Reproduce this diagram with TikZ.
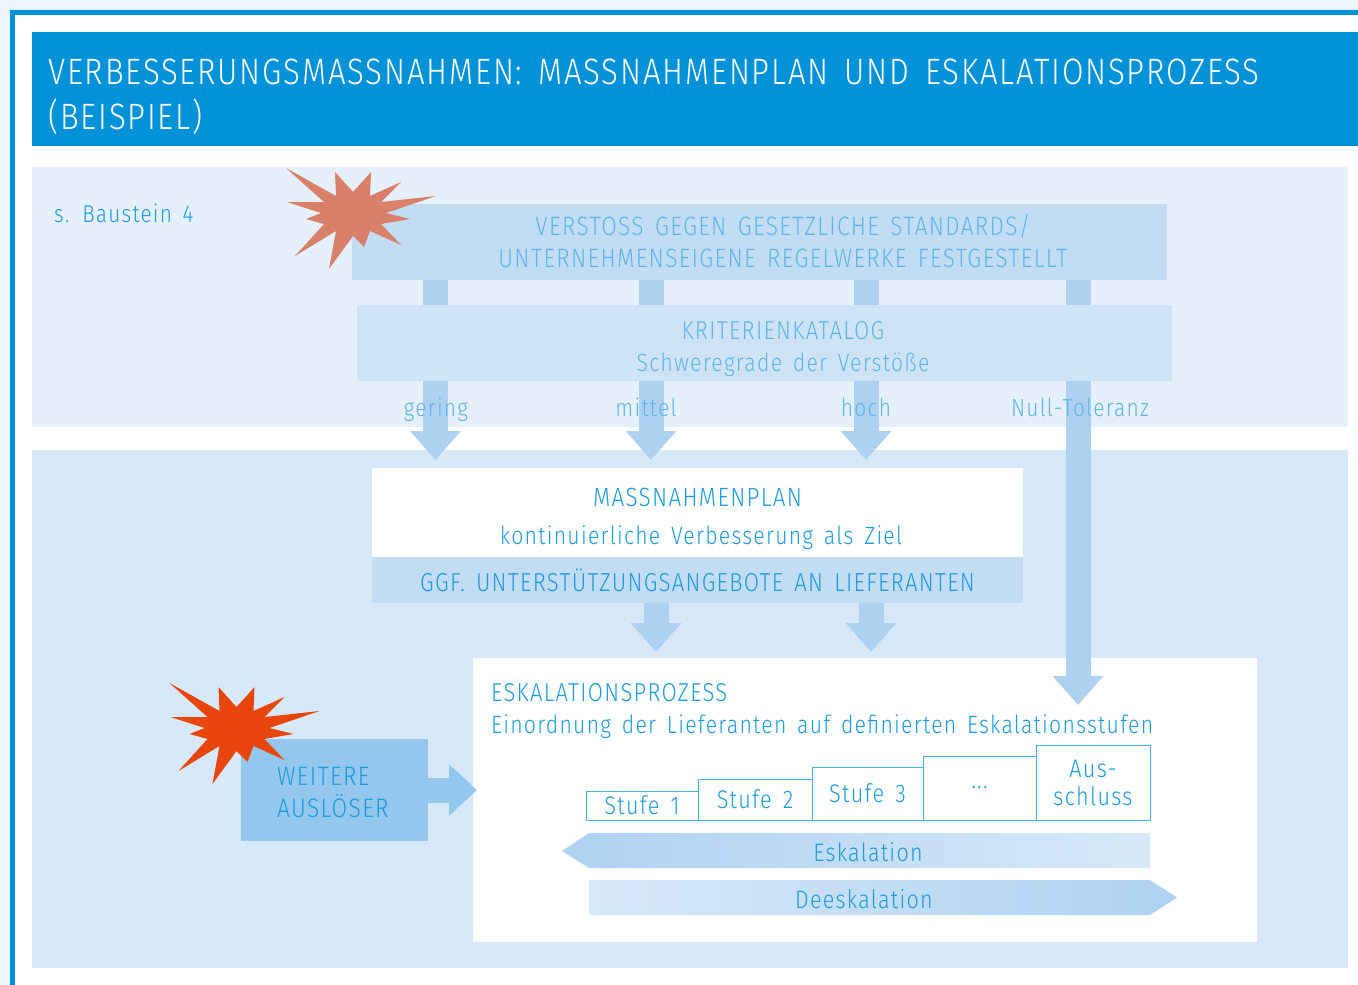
\documentclass[tikz,border=0pt]{standalone}
\usepackage{fontspec}
\setmainfont{Fira Sans Light}[FakeStretch=0.85,LetterSpace=5,WordSpace=1.5]
\usetikzlibrary{arrows.meta}
\definecolor{titleblue}{HTML}{0092D8}
\definecolor{textblue}{HTML}{1D9BDF}
\definecolor{paleblue}{HTML}{5DB6E9}
\definecolor{panelone}{HTML}{E5F0FB}
\definecolor{paneltwo}{HTML}{D7E9F8}
\definecolor{boxone}{HTML}{C2DCF4}
\definecolor{boxtwo}{HTML}{CFE3F7}
\definecolor{shaftblue}{HTML}{AED1F2}
\definecolor{triggerblue}{HTML}{94C7EE}
\tikzset{
  plate/.style={inner sep=0pt, outer sep=0pt, align=center, anchor=north west},
  shaft/.style={shaftblue, line width=25pt},
  blockarrow/.style={shaft, -{Triangle[width=49pt,length=29pt]}},
  stepbox/.style={plate, draw=textblue!80, line width=1pt, text=textblue, font=\fontsize{25.5}{28}\selectfont},
  severity/.style={anchor=base, text=paleblue, inner sep=0pt, font=\fontsize{24.7}{28}\selectfont},
  burst/.pic={
    \fill[pic actions] (-67,-45) -- (-29,-11) -- (-66,-11) -- (-32,0) -- (-47,6) -- (-29,11) -- (-58,43)
      -- (-17,18) -- (-24,56) -- (0,23) -- (11,34) -- (17,18) -- (48,32) -- (28,11) -- (57,6) -- (33,0)
      -- (83,-17) -- (28,-11) -- (48,-31) -- (17,-17) -- (18,-41) -- (0,-21) -- (-18,-41) -- (-17,-17) -- cycle;
  }
}
\begin{document}
\begin{tikzpicture}[x=1pt, y=-1pt]
  \useasboundingbox (0,0) rectangle (1358,985);
  \fill[panelone!70!white] (0,0) rectangle (1358,985);
  \fill[white] (10,10) rectangle (1358,985);
  \fill[titleblue] (10,10) rectangle (1358,15);
  \fill[titleblue] (10,10) rectangle (15,985);
  \node[plate, fill=titleblue, minimum width=1326pt, minimum height=114pt] (title) at (32,32) {};
  \node[anchor=west, inner sep=0pt, align=left, text=white, font=\fontsize{36.7}{45}\selectfont] (titletext) at (48,97)
    {VERBESSERUNGSMASSNAHMEN: MASSNAHMENPLAN UND ESKALATIONSPROZESS\\(BEISPIEL)};
  \node[plate, fill=panelone, minimum width=1316pt, minimum height=260pt] (top) at (32,167) {};
  \node[plate, fill=paneltwo, minimum width=1316pt, minimum height=518pt] (bottom) at (32,450) {};
  \node[anchor=west, inner sep=0pt, text=textblue, font=\fontsize{24.5}{28}\selectfont] (ref) at (54,213) {s. Baustein 4};
  \coordinate (c1) at (435.5,300);
  \coordinate (c2) at (651,300);
  \coordinate (c3) at (866,300);
  \coordinate (c4) at (1078,300);
  \coordinate (t1) at (435.5,460);
  \coordinate (t2) at (651,460);
  \coordinate (t3) at (866,460);
  \coordinate (t4) at (1078,705);
  \node[plate, fill=boxone, minimum width=815pt, minimum height=76pt] (breach) at (352,204) {};
  \node[plate, fill=boxtwo, minimum width=815pt, minimum height=76pt] (criteria) at (357,305) {};
  \node[text=paleblue, inner sep=0pt, align=center, font=\fontsize{26.6}{32}\selectfont] (breachtext) at (783,241)
    {VERSTOSS GEGEN GESETZLICHE STANDARDS/\\UNTERNEHMENSEIGENE REGELWERKE FESTGESTELLT};
  \node[text=paleblue, inner sep=0pt, align=center, font=\fontsize{25}{32}\selectfont] (criteriatext) at (783,349)
    {{\fontsize{26}{32}\selectfont KRITERIENKATALOG}\\Schweregrade der Verstöße};
  \draw[shaft] (breach.south -| c1) -- (criteria.north -| c1);
  \draw[shaft] (breach.south -| c2) -- (criteria.north -| c2);
  \draw[shaft] (breach.south -| c3) -- (criteria.north -| c3);
  \draw[shaft] (breach.south -| c4) -- (criteria.north -| c4);
  \node[plate, fill=white, minimum width=651pt, minimum height=89pt] (plan) at (372,468) {};
  \node[plate, fill=white, minimum width=784pt, minimum height=284pt] (escal) at (473,658) {};
  \draw[blockarrow] (criteria.south -| c1) -- (t1);
  \draw[blockarrow] (criteria.south -| c2) -- (t2);
  \draw[blockarrow] (criteria.south -| c3) -- (t3);
  \draw[blockarrow] (criteria.south -| c4) -- (t4);
  \node[severity] (low) at (436,416.5) {gering};
  \node[severity] (mid) at (646,416.5) {mittel};
  \node[severity] (high) at (866,416.5) {hoch};
  \node[severity] (zero) at (1080,416.5) {Null-Toleranz};
  \node[text=textblue, inner sep=0pt, align=center, font=\fontsize{25}{38}\selectfont] (plantext) at (701,519)
    {\hspace*{-7pt}{\fontsize{26.4}{38}\selectfont MASSNAHMENPLAN}\\kontinuierliche Verbesserung als Ziel};
  \node[plate, fill=boxone, minimum width=651pt, minimum height=46pt, text=textblue, font=\fontsize{26}{28}\selectfont] (support) at (372,557)
    {GGF. UNTERSTÜTZUNGSANGEBOTE AN LIEFERANTEN};
  \coordinate (a1) at (656,652);
  \coordinate (a2) at (871,652);
  \draw[blockarrow] (support.south -| a1) -- (a1);
  \draw[blockarrow] (support.south -| a2) -- (a2);
  \node[anchor=west, inner sep=0pt, align=left, text=textblue, font=\fontsize{25}{32}\selectfont] (esctext) at (491,711)
    {{\fontsize{25.9}{32}\selectfont ESKALATIONSPROZESS}\\Einordnung der Lieferanten auf definierten Eskalationsstufen};
  \node[stepbox, anchor=south west, minimum width=112pt, minimum height=29pt] (s1) at (586,820) {Stufe 1};
  \node[stepbox, anchor=south west, minimum width=114pt, minimum height=41pt] (s2) at (698,820) {Stufe 2};
  \node[stepbox, anchor=south west, minimum width=111pt, minimum height=53pt] (s3) at (812,820) {Stufe 3};
  \node[stepbox, anchor=south west, minimum width=113pt, minimum height=64pt] (s4) at (923,820) {...};
  \node[stepbox, anchor=south west, minimum width=114pt, minimum height=75pt] (s5) at (1036,820) {Aus-\\schluss};
  \shade[left color=shaftblue, right color=paneltwo] (562,851) -- (589,833) -- (1150,833) -- (1150,868) -- (589,868) -- cycle;
  \node[text=textblue, inner sep=0pt, font=\fontsize{25.3}{28}\selectfont] (up) at (868,852) {Eskalation};
  \shade[left color=paneltwo, right color=shaftblue] (589,880) -- (1150,880) -- (1177,897.5) -- (1150,915) -- (589,915) -- cycle;
  \node[text=textblue, inner sep=0pt, font=\fontsize{25.3}{28}\selectfont] (down) at (864,899) {Deeskalation};
  \node[plate, fill=triggerblue, minimum width=187pt, minimum height=102pt] (trigger) at (241,739) {};
  \node[anchor=west, inner sep=0pt, align=left, text=textblue, font=\fontsize{26.7}{32}\selectfont] (triggertext) at (277,792)
    {WEITERE\\AUSLÖSER};
  \coordinate (e) at (477,790);
  \draw[shaft, draw=triggerblue, -{Triangle[width=50pt,length=28pt]}] (trigger.east |- e) -- (e);
  \pic[fill={rgb,255:red,217;green,128;blue,106}] at (353,213) {burst};
  \pic[fill={rgb,255:red,233;green,70;blue,13}] at (236.5,728) {burst};
\end{tikzpicture}
\end{document}
